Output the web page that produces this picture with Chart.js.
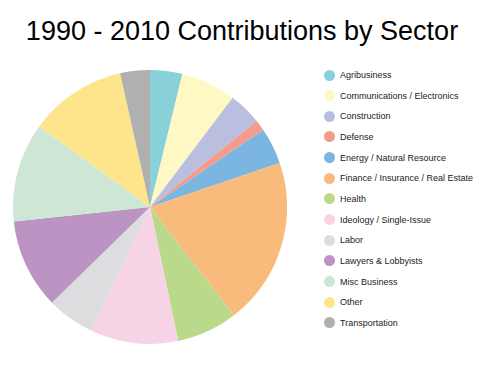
<!DOCTYPE html>
<html lang="en">
<head>
  <meta charset="UTF-8">
  <title>1990 - 2010 Contributions by Sector</title>
  <style>
    body {
      margin: 0;
      width: 480px;
      height: 365px;
      background: #fff;
      font-family: "Liberation Sans", Arial, sans-serif;
      position: relative;
      overflow: hidden;
    }
    h1 {
      position: absolute;
      left: 0;
      top: 16px;
      width: 484px;
      margin: 0;
      text-align: center;
      font-size: 27px;
      font-weight: normal;
      color: #000;
    }
    #chartBox {
      position: absolute;
      left: 13px;
      top: 70px;
      width: 274px;
      height: 274px;
    }
    #legend {
      position: absolute;
      left: 324px;
      top: 64.7px;
      font-size: 9px;
      color: #222;
    }
    .item {
      height: 20.67px;
      display: flex;
      align-items: center;
    }
    .dot {
      width: 11px;
      height: 11px;
      border-radius: 50%;
      margin-right: 5px;
    }
  </style>
</head>
<body>

  <h1>1990 - 2010 Contributions by Sector</h1>
  <div id="chartBox"><canvas id="chart"></canvas></div>
  <div id="legend"></div>

  <script src="https://cdn.jsdelivr.net/npm/chart.js"></script>
  <script>
    // Sectors, share of total (%)
    const sectors = [
      "Agribusiness", "Communications / Electronics", "Construction", "Defense",
      "Energy / Natural Resource", "Finance / Insurance / Real Estate", "Health",
      "Ideology / Single-Issue", "Labor", "Lawyers & Lobbyists", "Misc Business",
      "Other", "Transportation"
    ];
    const shares = [3.8, 6.5, 3.9, 1.3, 4.3, 19.7, 7.2, 10.4, 5.6, 10.6, 11.7, 11.5, 3.5];
    const colors = [
      "#88d1d9", "#fef8c4", "#babfdf", "#f39b8c", "#7ab6e0", "#f9bb7c", "#bad98a",
      "#f7d4e5", "#dcdddf", "#bc94c3", "#cde7d4", "#fee48b", "#b0b0b0"
    ];

    new Chart(document.getElementById("chart"), {
      type: "pie",
      data: {
        labels: sectors,
        datasets: [{
          data: shares,
          backgroundColor: colors,
          borderWidth: 0
        }]
      },
      options: {
        responsive: true,
        maintainAspectRatio: false,
        animation: false,
        layout: { padding: 0 },
        plugins: {
          legend: { display: false },
          tooltip: { enabled: false }
        }
      }
    });

    // simple legend on the right
    const legendDiv = document.getElementById("legend");
    sectors.forEach((name, i) => {
      const row = document.createElement("div");
      row.className = "item";
      row.innerHTML = `<span class="dot" style="background:${colors[i]}"></span>${name}`;
      legendDiv.appendChild(row);
    });
  </script>

</body>
</html>
